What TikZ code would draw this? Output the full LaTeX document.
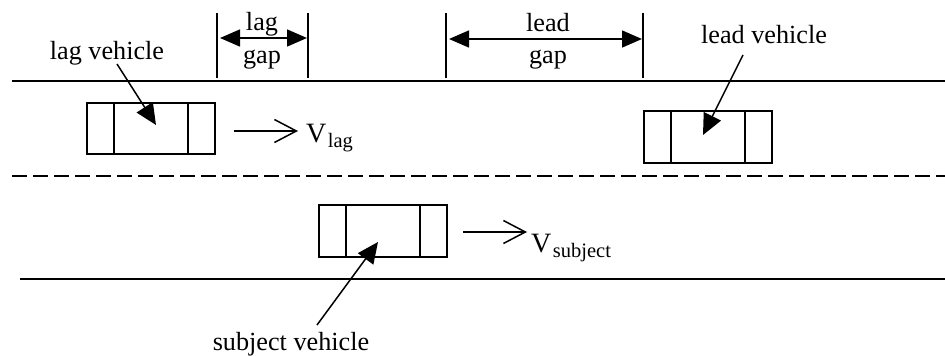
\documentclass[tikz,border=0pt]{standalone}
\usepackage{fontspec}
\setmainfont{Liberation Serif}
\usetikzlibrary{arrows.meta}
\newcommand{\sbf}{\fontsize{20.5}{24}\selectfont}
\begin{document}
\begin{tikzpicture}[x=1pt,y=-1pt,
  road/.style={line width=2pt},
  lanedash/.style={line width=2pt,dash pattern=on 15pt off 6pt},
  car/.style={draw,line width=1.6pt,rectangle,minimum width=128pt,minimum height=52pt,inner sep=0pt},
  divider/.style={line width=1.6pt},
  lbl/.style={inner sep=0pt,anchor=base,font=\fontsize{26.2}{30}\selectfont},
  pointer/.style={line width=1.5pt,-{Triangle[length=21pt,width=19pt]}},
  gaparrow/.style={line width=1.5pt,{Triangle[length=20pt,width=17pt]}-{Triangle[length=20pt,width=17pt]},shorten <=3pt,shorten >=1pt},
  gapmark/.style={line width=1.5pt},
  velo/.style={line width=1.5pt,-{Straight Barb[length=22pt,width=23pt,line width=1.5pt]}}
]
\useasboundingbox (0,0) rectangle (945,356);
% road
\coordinate (rtl) at (12,81);   \coordinate (rtr) at (945,81);
\coordinate (rml) at (12,176);  \coordinate (rmr) at (945,176);
\coordinate (rbl) at (20,279);  \coordinate (rbr) at (945,279);
\draw[road] (rtl) -- (rtr);
\draw[lanedash] (rml) -- (rmr);
\draw[road] (rbl) -- (rbr);
% cars
\node[car,minimum height=51pt] (lagcar) at (151,128.5) {};
\node[car] (leadcar) at (708,137) {};
\node[car] (subjcar) at (383,231) {};
\foreach \c in {lagcar,leadcar,subjcar}{
  \draw[divider] ([xshift=28pt]\c.north west) -- ([xshift=28pt]\c.south west);
  \draw[divider] ([xshift=-28pt]\c.north east) -- ([xshift=-28pt]\c.south east);
}
% gap markers
\coordinate (g1t) at (217,13); \coordinate (g1b) at (217,78);
\coordinate (g2t) at (308,13); \coordinate (g2b) at (308,78);
\coordinate (g3t) at (446,13); \coordinate (g3b) at (446,78);
\coordinate (g4t) at (643,13); \coordinate (g4b) at (643,78);
\draw[gapmark] (g1t) -- (g1b);
\draw[gapmark] (g2t) -- (g2b);
\draw[gapmark] (g3t) -- (g3b);
\draw[gapmark] (g4t) -- (g4b);
\coordinate (lagga) at (217,38); \coordinate (laggb) at (308,38);
\coordinate (leadga) at (446,39); \coordinate (leadgb) at (643,39);
\draw[gaparrow] (lagga) -- (laggb);
\draw[gaparrow] (leadga) -- (leadgb);
\node[lbl] (lagtxt) at (262,30) {lag};
\node[lbl] (laggap) at (262,63) {gap};
\node[lbl] (leadtxt) at (548,31) {lead};
\node[lbl] (leadgap) at (548,63) {gap};
% vehicle labels
\node[lbl] (lagvl) at (107,59) {lag vehicle};
\node[lbl] (leadvl) at (764,43) {lead vehicle};
\node[lbl] (subjvl) at (291,350) {subject vehicle};
\coordinate (lagtail) at (117,64);  \coordinate (lagtip) at (156,125);
\coordinate (leadtail) at (743,55); \coordinate (leadtip) at (703,135);
\coordinate (subjtail) at (317,325); \coordinate (subjtip) at (378,242);
\draw[pointer] (lagtail) -- (lagtip);
\draw[pointer] (leadtail) -- (leadtip);
\draw[pointer] (subjtail) -- (subjtip);
% velocities
\coordinate (vla) at (234,131); \coordinate (vlb) at (298,131);
\coordinate (vsa) at (463,232); \coordinate (vsb) at (527,232);
\draw[velo] (vla) -- (vlb);
\draw[velo] (vsa) -- (vsb);
\node[lbl,anchor=base west,font=\fontsize{28}{30}\selectfont] (vlag) at (306,142) {V\kern1.5pt\raisebox{-5pt}{\sbf lag}};
\node[lbl,anchor=base west,font=\fontsize{28}{30}\selectfont] (vsubj) at (531,252) {V\kern1.5pt\raisebox{-5pt}{\sbf subject}};
\end{tikzpicture}
\end{document}
